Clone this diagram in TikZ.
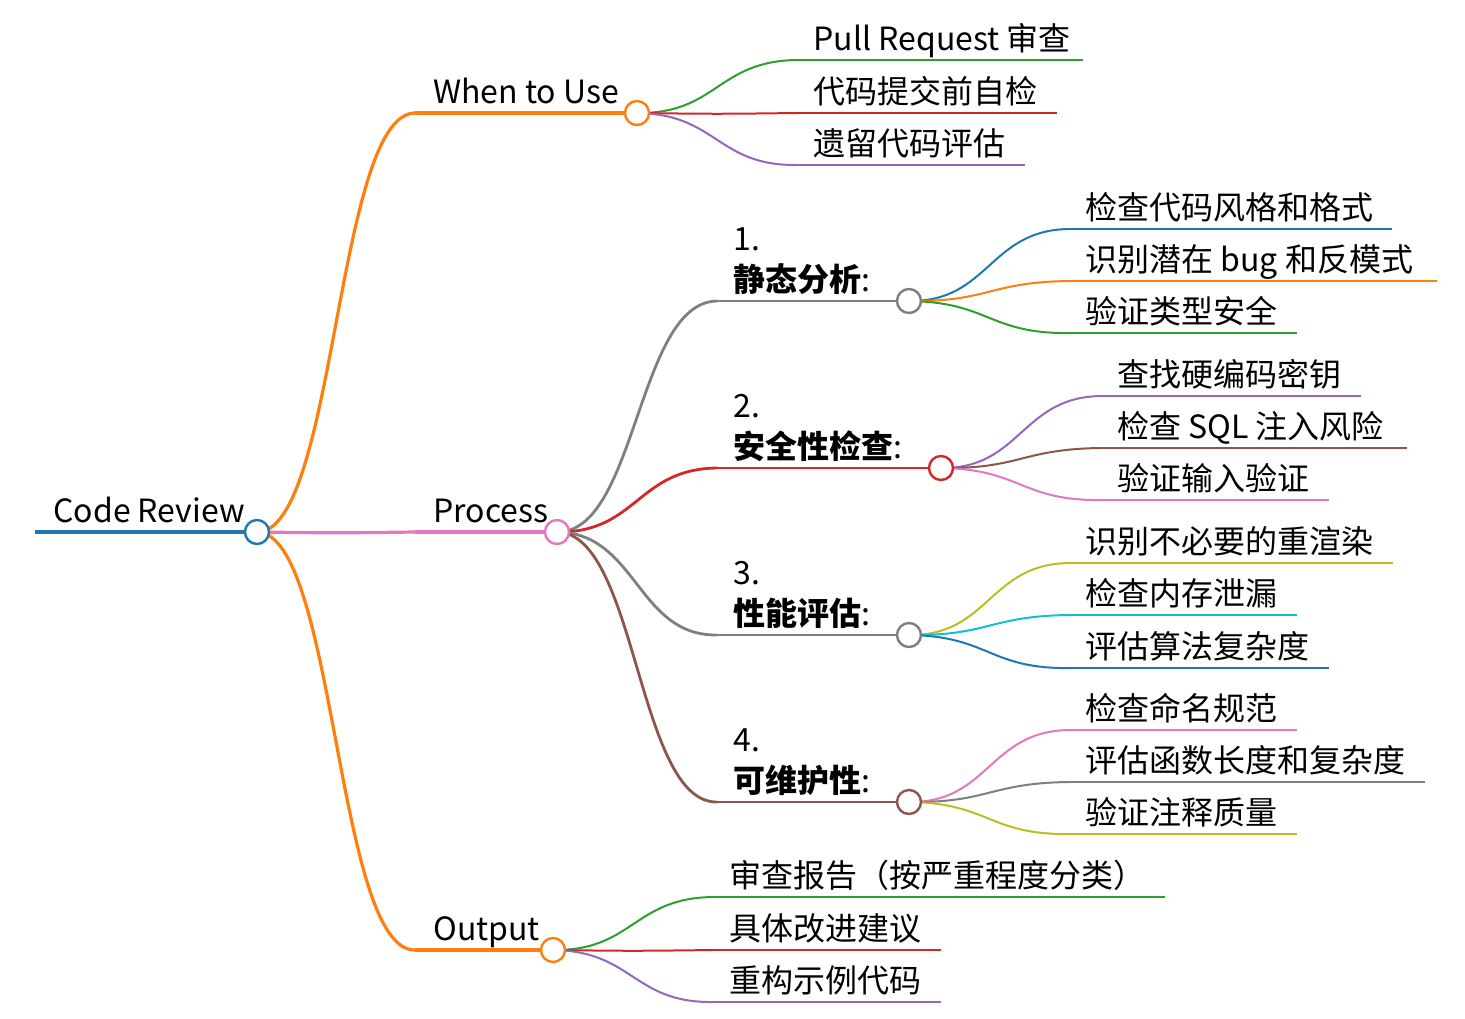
\documentclass[tikz,border=0pt]{standalone}
\usepackage{fontspec}
\setmainfont{Noto Sans CJK SC}
\usetikzlibrary{calc,positioning}
\definecolor{cblue}{HTML}{1F77B4}
\definecolor{corange}{HTML}{FF7F0E}
\definecolor{cgreen}{HTML}{2CA02C}
\definecolor{cred}{HTML}{D62728}
\definecolor{cpurple}{HTML}{9467BD}
\definecolor{cbrown}{HTML}{8C564B}
\definecolor{cpink}{HTML}{E377C2}
\definecolor{cgray}{HTML}{7F7F7F}
\definecolor{colive}{HTML}{BCBD22}
\definecolor{ccyan}{HTML}{17BECF}
\tikzset{
  lbl/.style={anchor=base west,inner sep=0pt,font=\fontsize{16}{19}\selectfont},
  dot/.style={circle,draw,fill=white,line width=1.2pt,minimum size=12pt,inner sep=0pt},
  leafline/.style={line width=1pt},
  midline/.style={line width=1.4pt}
}
% curve from circle (#1) to line start (#2)
\newcommand{\bend}[3]{\draw[#3] (#1) .. controls ($($(#1)!.5!(#2)$)!(#1)!($(#1)!.5!(#2)$)+(0,1)$) and ($($(#1)!.5!(#2)$)!(#2)!($(#1)!.5!(#2)$)+(0,1)$) .. (#2);}
% leaf: parent, start x, end x, y, colour, text, name
\newcommand{\leaf}[7]{
  \coordinate (#7s) at (#2,#4);
  \coordinate (#7e) at (#3,#4);
  \bend{#1}{#7s}{leafline,#5}
  \draw[leafline,#5] (#7s) -- (#7e);
  \node[lbl] (#7) at (#2+16,#4-10) {#6};
}
\begin{document}
\begin{tikzpicture}[x=0.5pt,y=-0.5pt]
\useasboundingbox (0,0) rectangle (1465,1018);
% root
\coordinate (root) at (257,532);
\draw[line width=2pt,cblue] (35,532) -- (root);
\node[lbl] (rootl) at (53,522) {Code Review};
% first level
\coordinate (whens) at (415,113); \coordinate (when) at (637,113);
\coordinate (procs) at (415,532); \coordinate (proc) at (557,532);
\coordinate (outs) at (415,950); \coordinate (out) at (553,950);
\bend{root}{whens}{line width=1.6pt,corange}
\bend{root}{procs}{line width=1.6pt,cpink}
\bend{root}{outs}{line width=1.6pt,corange}
\draw[line width=1.6pt,corange] (whens) -- (when);
\draw[line width=1.6pt,cpink] (procs) -- (proc);
\draw[line width=1.6pt,corange] (outs) -- (out);
\node[lbl] (whenl) at (433,103) {When to Use};
\node[lbl] (procl) at (433,522) {Process};
\node[lbl] (outl) at (433,940) {Output};
% when to use
\leaf{when}{797}{1083}{60}{cgreen}{Pull Request 审查}{w1}
\leaf{when}{797}{1057}{113}{cred}{代码提交前自检}{w2}
\leaf{when}{797}{1025}{165}{cpurple}{遗留代码评估}{w3}
% process steps
\coordinate (s1s) at (717,301); \coordinate (s1) at (909,301);
\coordinate (s2s) at (717,468); \coordinate (s2) at (941,468);
\coordinate (s3s) at (717,635); \coordinate (s3) at (909,635);
\coordinate (s4s) at (717,802); \coordinate (s4) at (909,802);
\bend{proc}{s1s}{midline,cgray}
\bend{proc}{s2s}{midline,cred}
\bend{proc}{s3s}{midline,cgray}
\bend{proc}{s4s}{midline,cbrown}
\draw[midline,cgray] (s1s) -- (s1);
\draw[midline,cred] (s2s) -- (s2);
\draw[midline,cgray] (s3s) -- (s3);
\draw[midline,cbrown] (s4s) -- (s4);
\node[lbl] (s1l) at (733,250) {1.};
\node[lbl] (s1m) at (733,291) {\textbf{静态分析}:};
\node[lbl] (s2l) at (733,417) {2.};
\node[lbl] (s2m) at (733,458) {\textbf{安全性检查}:};
\node[lbl] (s3l) at (733,584) {3.};
\node[lbl] (s3m) at (733,625) {\textbf{性能评估}:};
\node[lbl] (s4l) at (733,751) {4.};
\node[lbl] (s4m) at (733,792) {\textbf{可维护性}:};
% static analysis
\leaf{s1}{1069}{1392}{229}{cblue}{检查代码风格和格式}{a1}
\leaf{s1}{1069}{1437}{281}{corange}{识别潜在 bug 和反模式}{a2}
\leaf{s1}{1069}{1297}{333}{cgreen}{验证类型安全}{a3}
% security
\leaf{s2}{1101}{1361}{396}{cpurple}{查找硬编码密钥}{b1}
\leaf{s2}{1101}{1407}{448}{cbrown}{检查 SQL 注入风险}{b2}
\leaf{s2}{1101}{1329}{500}{cpink}{验证输入验证}{b3}
% performance
\leaf{s3}{1069}{1393}{563}{colive}{识别不必要的重渲染}{c1}
\leaf{s3}{1069}{1297}{615}{ccyan}{检查内存泄漏}{c2}
\leaf{s3}{1069}{1329}{668}{cblue}{评估算法复杂度}{c3}
% maintainability
\leaf{s4}{1069}{1297}{730}{cpink}{检查命名规范}{d1}
\leaf{s4}{1069}{1425}{782}{cgray}{评估函数长度和复杂度}{d2}
\leaf{s4}{1069}{1297}{834}{colive}{验证注释质量}{d3}
% output
\leaf{out}{713}{1165}{897}{cgreen}{审查报告（按严重程度分类）}{o1}
\leaf{out}{713}{941}{950}{cred}{具体改进建议}{o2}
\leaf{out}{713}{941}{1002}{cpurple}{重构示例代码}{o3}
% circles
\node[dot,draw=cblue] at (root) {};
\node[dot,draw=corange] at (when) {};
\node[dot,draw=cpink] at (proc) {};
\node[dot,draw=corange] at (out) {};
\node[dot,draw=cgray] at (s1) {};
\node[dot,draw=cred] at (s2) {};
\node[dot,draw=cgray] at (s3) {};
\node[dot,draw=cbrown] at (s4) {};
\end{tikzpicture}
\end{document}
